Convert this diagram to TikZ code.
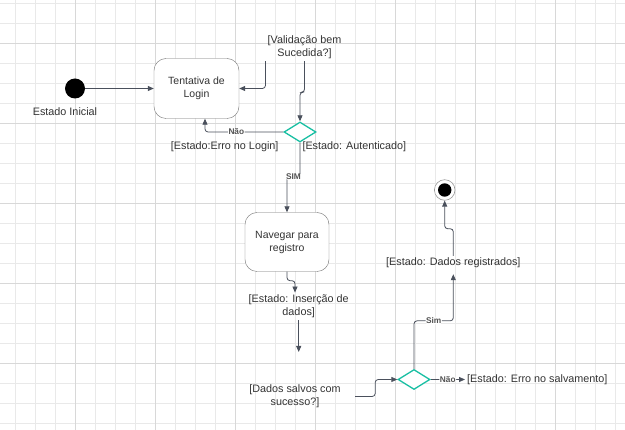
\documentclass[tikz,border=0pt]{standalone}
\usepackage{fontspec}
\setmainfont{Liberation Sans}
\usepackage{tikz}
\usetikzlibrary{%
	shapes.geometric,%
	arrows.meta%
}
\definecolor{Grid}{HTML}{E9E9E9}
\definecolor{GridMajor}{HTML}{D8D8D8}
\definecolor{Wire}{HTML}{4A505C}
\definecolor{Ink}{HTML}{333333}
\definecolor{Box}{HTML}{707070}
\definecolor{Decision}{HTML}{19BFA3}

\tikzset{
	state/.style={draw=Box, fill=white, rounded corners=12pt, minimum width=85pt, minimum height=60pt, align=center, text=Ink, font=\fontsize{10.5}{13}\selectfont},
	guard/.style={inner sep=2pt, align=center, text=Ink, font=\fontsize{10.8}{13}\selectfont},
	decision/.style={diamond, draw=Decision, fill=white, line width=1.3pt, minimum width=32pt, minimum height=20pt, inner sep=0pt},
	flow/.style={draw=Wire, line width=0.8pt, rounded corners=3pt, -{Triangle[length=6pt,width=5pt]}},
	tag/.style={fill=white, inner sep=0.5pt, text=Ink!85, font=\fontsize{8.3}{9}\selectfont\bfseries}
}

\begin{document}
\begin{tikzpicture}[x=1pt,y=-1pt]
% Background
\fill [white] (0,0) rectangle (625,430);
\useasboundingbox (0,0) rectangle (625,430);
% Grid
\foreach \x in {15.5,35.5,...,615.5} \draw [Grid,line width=0.6pt] (\x,0) -- (\x,430);
\foreach \y in {3.3,23.3,...,423.3} \draw [Grid,line width=0.6pt] (0,\y) -- (625,\y);
\foreach \x in {75.5,155.5,...,555.5} \draw [GridMajor,line width=0.6pt] (\x,0) -- (\x,430);
\foreach \y in {43.3,123.3,...,363.3} \draw [GridMajor,line width=0.6pt] (0,\y) -- (625,\y);
% Initial state
\node [circle,fill=black,minimum size=20pt,inner sep=0pt] (ini) at (75,88.5) {};
\node [guard] (inilab) at (65,112) {Estado Inicial};
% Login
\node [state] (login) at (196.5,88.5) {Tentativa de\\Login};
\node [guard] (valid) at (304.5,47.5) {[Validação bem\\Sucedida?]};
\node [decision] (chk) at (300,132) {};
\node [guard] (errlogin) at (224.7,146.5) {[Estado:Erro no Login]};
\node [guard,anchor=west] (auth) at (300.3,146.5) {[Estado: Autenticado]};
% Register
\node [state,minimum width=84pt,minimum height=59pt] (nav) at (287,242) {Navegar para\\registro};
\node [guard] (insert) at (298.7,306.3) {[Estado: Inserção de\\dados]};
\coordinate (insend) at (298.7,352);
\node [guard,minimum width=120pt] (saved) at (295,396.5) {[Dados salvos com\\sucesso?]};
\node [decision] (chk2) at (414,379.5) {};
\node [guard,anchor=west] (errsave) at (465,379.5) {[Estado: Erro no salvamento]};
\node [guard] (reg) at (453.3,263) {[Estado: Dados registrados]};
% Final state
\node [circle,draw=Box!70,fill=white,line width=0.6pt,minimum size=20.6pt,inner sep=0pt,
	path picture={\fill [black] (path picture bounding box.center) circle (6.7pt);}] (fin) at (444.7,190) {};
% Transitions
\draw [flow] (ini.east) -- (login.west);
\draw [flow] (valid.south west) |- (login.east);
\draw [flow] (valid.south) -- ++(0,31) -| (chk.north);
\draw [flow] (chk.west) -| node [tag,pos=0.3] {Não} ([xshift=8.5pt]login.south);
\draw [flow] (chk.south) -- ++(0,34) -| node [tag,pos=0.25] {SIM} (nav.north);
\draw [flow] (nav.south) -- ++(0,9) -| ([xshift=-3.7pt]insert.north);
\draw [flow] (insert.south) -- (insend);
\draw [flow] (saved.east) -- ++(20,0) |- (chk2.west);
\draw [flow,shorten >=4pt] (chk2.north) -- ++(0,-48) -| node [tag,pos=0.25] {Sim} (reg.south);
\draw [flow] (reg.north) -- ++(0,-27) -| (fin.south);
\draw [flow] (chk2.east) -- node [tag] {Não} (errsave.west);
\end{tikzpicture}
\end{document}
